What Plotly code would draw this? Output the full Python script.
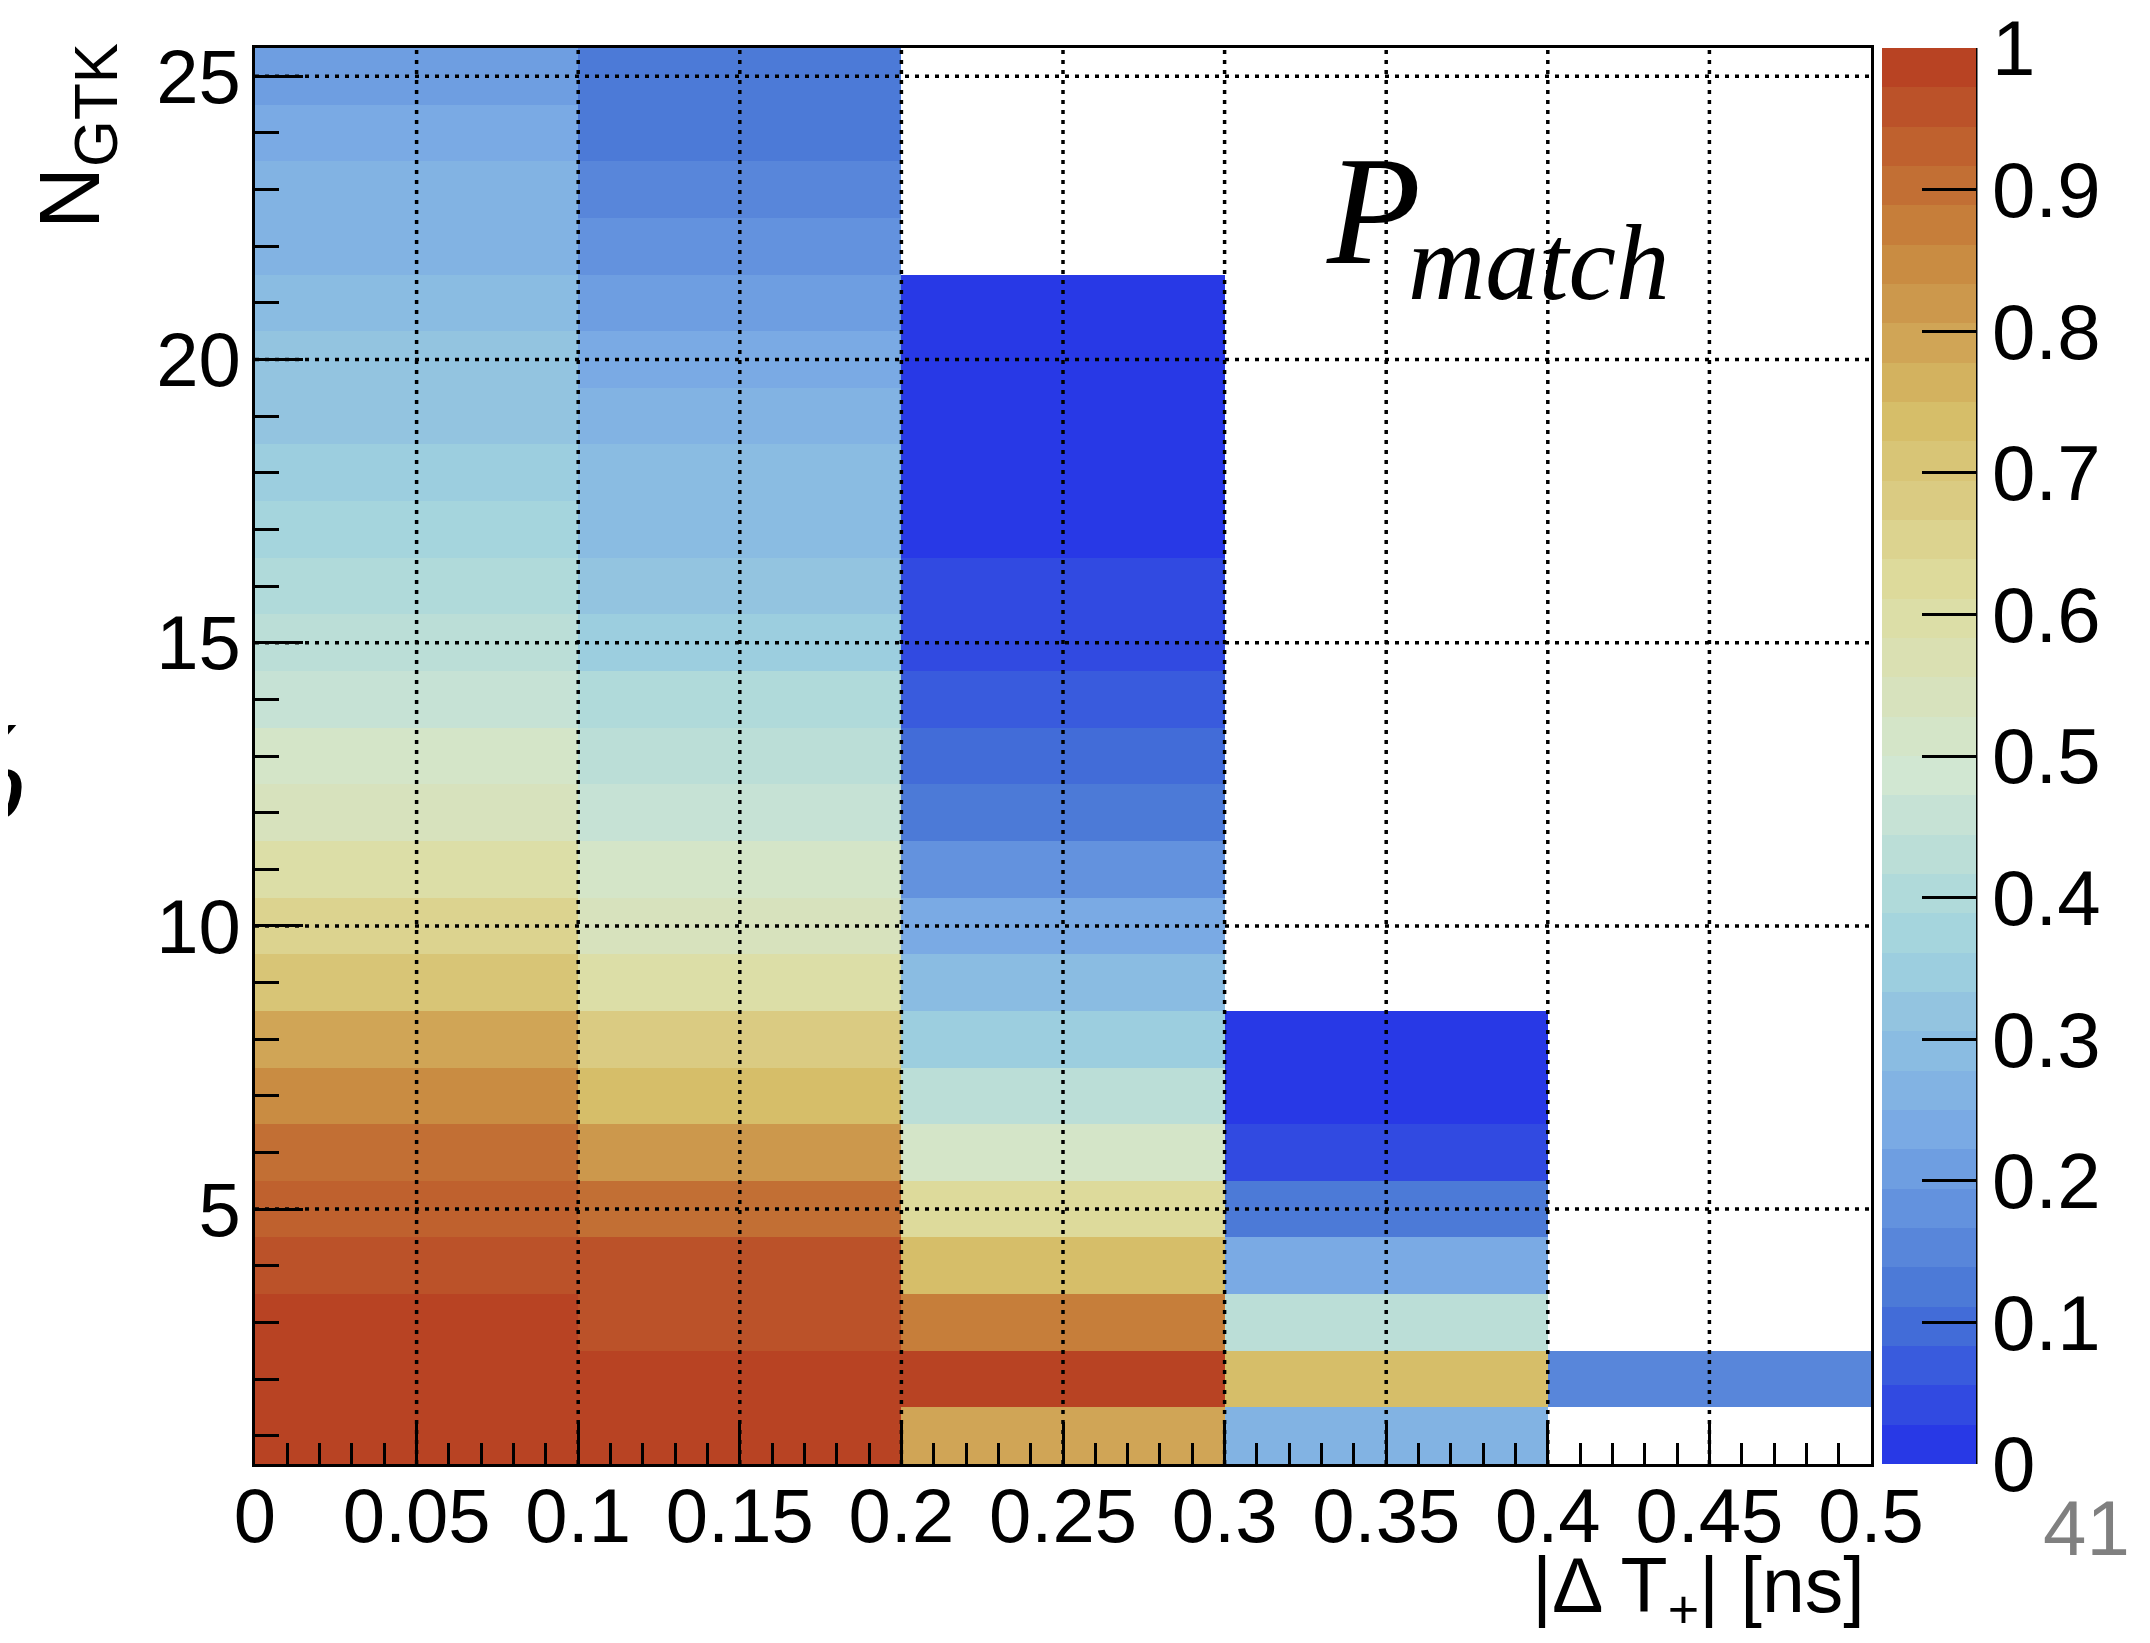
import numpy as np
import plotly.graph_objects as go

# ---------------- data ----------------
x_centers = [0.05, 0.15, 0.25, 0.35, 0.45]          # |dT+| bin centres [ns]
n_gtk = list(range(1, 26))                            # N_GTK bins

# P_match per N_GTK (N = 1, 2, ...) for each |dT+| bin
col_000_010 = [0.99, 0.99, 0.99, 0.96, 0.93, 0.91, 0.85, 0.79, 0.71, 0.65, 0.60, 0.54, 0.51,
               0.46, 0.43, 0.40, 0.375, 0.35, 0.32, 0.32, 0.29, 0.264, 0.264, 0.236, 0.21]
col_010_020 = [0.99, 0.99, 0.96, 0.96, 0.90, 0.82, 0.74, 0.68, 0.60, 0.54, 0.51, 0.46, 0.43,
               0.40, 0.35, 0.32, 0.29, 0.29, 0.264, 0.236, 0.21, 0.18, 0.15, 0.125, 0.125]
col_020_030 = [0.79, 0.99, 0.875, 0.74, 0.62, 0.51, 0.43, 0.35, 0.29, 0.236, 0.18, 0.125, 0.097,
               0.07, 0.04, 0.04, 0.01, 0.01, 0.01, 0.01, 0.01]
col_030_040 = [0.264, 0.74, 0.43, 0.236, 0.125, 0.04, 0.01, 0.01]
col_040_050 = [None, 0.15]

x_tickvals = [0, 0.05, 0.1, 0.15, 0.2, 0.25, 0.3, 0.35, 0.4, 0.45, 0.5]
x_ticktext = ["0", "0.05", "0.1", "0.15", "0.2", "0.25", "0.3", "0.35", "0.4", "0.45", "0.5"]
y_tickvals = [5, 10, 15, 20, 25]
z_tickvals = [0, 0.1, 0.2, 0.3, 0.4, 0.5, 0.6, 0.7, 0.8, 0.9, 1]
z_ticktext = ["0", "0.1", "0.2", "0.3", "0.4", "0.5", "0.6", "0.7", "0.8", "0.9", "1"]

# ---------------- build z matrix ----------------
columns = [col_000_010, col_010_020, col_020_030, col_030_040, col_040_050]
z = [[None] * len(x_centers) for _ in n_gtk]
for j, col in enumerate(columns):
    for i, v in enumerate(col):
        z[i][j] = v

# ---------------- ROOT kLightTemperature palette, 36 contours ----------------
stops = [0.0, 0.125, 0.25, 0.375, 0.5, 0.625, 0.75, 0.875, 1.0]
red = [31, 71, 123, 160, 210, 222, 214, 199, 183]
green = [40, 117, 171, 211, 231, 220, 190, 132, 65]
blue = [234, 214, 228, 222, 210, 160, 105, 60, 34]
ncont = 36
colorscale = []
for i in range(ncont):
    t = np.floor((i + 0.99) * 255 / ncont) / 255.0
    r = int(round(np.interp(t, stops, red)))
    g = int(round(np.interp(t, stops, green)))
    b = int(round(np.interp(t, stops, blue)))
    c = f"rgb({r},{g},{b})"
    colorscale.append([i / ncont, c])
    colorscale.append([(i + 1) / ncont, c])

# ---------------- layout geometry (screen pixels) ----------------
W, H = 2150, 1643
OFF = 8                      # page body margin of the html
L, R, T, B = 255, 1871, 48, 1464


def px(xp):
    return (xp - L) / (R - L)


def py(yp):
    return (B - yp) / (B - T)


SANS = "Liberation Sans, Arial, Helvetica, sans-serif"
SERIF = "Liberation Serif, Times New Roman, serif"

cb_left, cb_right = 1882, 1976

fig = go.Figure()
fig.add_trace(go.Heatmap(
    x=x_centers, y=n_gtk, z=z,
    zmin=0, zmax=1, colorscale=colorscale,
    hoverongaps=False,
    colorbar=dict(
        x=px(cb_left), xanchor="left", xpad=0, ypad=0,
        y=0.5, yanchor="middle", len=1, lenmode="fraction",
        thickness=cb_right - cb_left, thicknessmode="pixels",
        outlinewidth=0,
        tickmode="array", tickvals=z_tickvals, ticktext=z_ticktext,
        ticks="inside", ticklen=54, tickwidth=2.5, tickcolor="black",
        ticklabeloverflow="allow",
        tickfont=dict(family=SANS, size=78, color="black"),
    ),
))

axis_common = dict(
    showgrid=False, zeroline=False, showline=True, linecolor="black", linewidth=3,
    mirror=True, ticks="inside", tickcolor="black", tickwidth=2.5,
    tickfont=dict(family=SANS, size=76, color="black"),
)

fig.update_xaxes(
    range=[0, 0.5], tickmode="array", tickvals=x_tickvals, ticktext=x_ticktext,
    ticklen=42, ticklabelstandoff=-16,
    minor=dict(ticks="inside", dtick=0.01, tick0=0, ticklen=21, tickwidth=2.5, tickcolor="black"),
    **axis_common,
)
fig.update_yaxes(
    range=[0.5, 25.5], tickmode="array", tickvals=y_tickvals,
    ticklen=48, ticklabelstandoff=-4,
    minor=dict(ticks="inside", dtick=1, tick0=0, ticklen=24, tickwidth=2.5, tickcolor="black"),
    **axis_common,
)

# dotted grid drawn over the cells
grid_line = dict(color="black", width=3.5, dash="4px,6px")
for v in x_tickvals[1:-1]:
    fig.add_shape(type="line", xref="x", yref="paper", x0=v, x1=v, y0=0, y1=1,
                  line=grid_line, layer="above")
for v in y_tickvals:
    fig.add_shape(type="line", xref="paper", yref="y", x0=0, x1=1, y0=v, y1=v,
                  line=grid_line, layer="above")

# colour-bar axis line (right side)
fig.add_shape(type="line", xref="paper", yref="paper", x0=px(cb_right), x1=px(cb_right),
              y0=0, y1=1, line=dict(color="black", width=3), layer="above")

annotations = [
    dict(text="N<sub>GTK</sub>", x=px(76), y=py(136), xanchor="center", yanchor="middle",
         textangle=-90, font=dict(family=SANS, size=86, color="black")),
    dict(text="|Δ T<sub>+</sub>| [ns]", x=px(1867), y=py(1590), xanchor="right", yanchor="middle",
         font=dict(family=SANS, size=77, color="black")),
    dict(text="<i>P</i>", x=px(1324), y=py(211), xanchor="left", yanchor="middle",
         font=dict(family=SERIF, size=154, color="black")),
    dict(text="<i>match</i>", x=px(1406), y=py(263), xanchor="left", yanchor="middle",
         font=dict(family=SERIF, size=107, color="black")),
    dict(text="<i>%</i>", x=px(32), y=py(770), xanchor="right", yanchor="middle",
         font=dict(family=SERIF, size=140, color="black")),
    dict(text="41", x=px(2086), y=py(1528), xanchor="center", yanchor="middle",
         font=dict(family=SANS, size=78, color="#808080")),
]
for a in annotations:
    a.update(xref="paper", yref="paper", showarrow=False)

fig.update_layout(
    width=W - OFF, height=H - OFF,
    margin=dict(l=L - OFF, r=W - R, t=T - OFF, b=H - B, autoexpand=False),
    paper_bgcolor="white", plot_bgcolor="white",
    annotations=annotations,
    showlegend=False,
)

fig.write_html("out.html")
